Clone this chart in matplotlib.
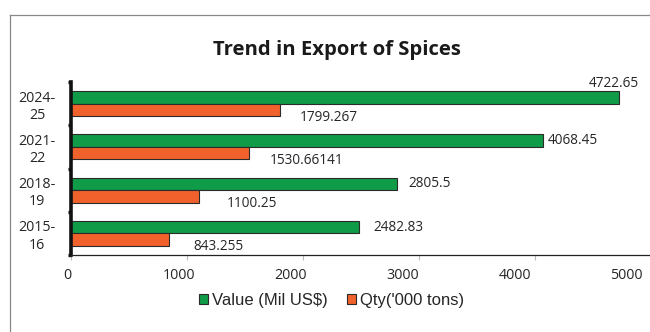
import numpy as np
import matplotlib.pyplot as plt
from matplotlib.lines import Line2D
from matplotlib.transforms import ScaledTranslation

# export of spices, oldest period at the bottom
periods = ['2015-\n16', '2018-\n19', '2021-\n22', '2024-\n25']
value_musd = [2482.83, 2805.5, 4068.45, 4722.65]
qty_kt = [843.255, 1100.25, 1530.66141, 1799.267]

green = '#109B48'
orange = '#F1612B'
edge = '#2b2b2b'

fig = plt.figure(figsize=(6.5, 3.32), dpi=100)
ax = fig.add_axes([71 / 650, 1 - 255 / 332, (651.5 - 71) / 650, (255 - 82) / 332])

y = np.arange(len(periods))
h = 0.29
ax.barh(y + h / 2, value_musd, height=h, color=green, edgecolor=edge, linewidth=0.8,
        label='Value (Mil US$)')
ax.barh(y - h / 2, qty_kt, height=h, color=orange, edgecolor=edge, linewidth=0.8,
        label="Qty('000 tons)")

ax.set_xlim(0, 5000)
ax.set_ylim(-0.5, len(periods) - 0.5)

# value labels, nudged off the bar ends
for i, v in enumerate(value_musd):
    if i == len(value_musd) - 1:
        ax.annotate(str(v), (v, i + h), xytext=(20, 8), textcoords='offset pixels',
                    ha='right', va='center', fontsize=9.8, color='#262626',
                    family='Open Sans')
    else:
        dx = [14, 12, 4][i]
        ax.annotate(str(v), (v, i + h / 2), xytext=(dx, 0), textcoords='offset pixels',
                    ha='left', va='center', fontsize=9.8, color='#262626',
                    family='Open Sans')
for i, q in enumerate(qty_kt):
    dx = [24, 28, 21, 20][i]
    ax.annotate(str(q), (q, i - h), xytext=(dx, -1), textcoords='offset pixels',
                ha='left', va='center', fontsize=9.8, color='#262626',
                family='Open Sans')

# axes styling
for s in ['top', 'right']:
    ax.spines[s].set_visible(False)
ax.spines['left'].set_linewidth(2.6)
ax.spines['left'].set_color('#111111')
ax.spines['bottom'].set_linewidth(0.9)
ax.spines['bottom'].set_color('#222222')

ax.set_yticks(y, periods)
ax.set_yticks(np.arange(-0.5, len(periods)), minor=True)
ax.tick_params(axis='y', which='major', length=0, pad=11, labelsize=10.3)
ax.tick_params(axis='y', which='minor', length=2.5, width=2.4, color='#111111')
for lab in ax.get_yticklabels():
    lab.set_multialignment('center')
    lab.set_family('Open Sans')
    lab.set_color('#262626')
    lab.set_linespacing(1.2)

ax.set_xticks(np.arange(0, 5001, 1000))
ax.tick_params(axis='x', length=3.5, width=0.8, color='#bbbbbb', pad=6,
               labelsize=10.3, labelcolor='#262626')
# labels sit a little left of their tick marks, more so further out
for k, lab in enumerate(ax.get_xticklabels()):
    lab.set_family('Open Sans')
    lab.set_transform(lab.get_transform() +
                      ScaledTranslation(-(4 + 4.2 * k) / 100, 0, fig.dpi_scale_trans))

fig.text(336.5 / 650, 1 - 50 / 332, 'Trend in Export of Spices', ha='center', va='center',
         fontsize=14.6, fontweight='bold', family='Open Sans', color='#1a1a1a')

fig.legend(loc='center', bbox_to_anchor=(331.5 / 650, 1 - 300 / 332), ncol=2, frameon=False,
           prop={'family': 'Liberation Sans', 'size': 12}, handlelength=0.55,
           handleheight=0.55, handletextpad=0.2, columnspacing=1.2, labelcolor='#262626')

# chart frame (left and top edges)
fig.add_artist(Line2D([10 / 650, 10 / 650], [0, 1 - 15 / 332], transform=fig.transFigure,
                      color='#888888', linewidth=0.9))
fig.add_artist(Line2D([10 / 650, 1], [1 - 15 / 332, 1 - 15 / 332], transform=fig.transFigure,
                      color='#888888', linewidth=0.9))

fig.savefig('out.png', dpi=100)
